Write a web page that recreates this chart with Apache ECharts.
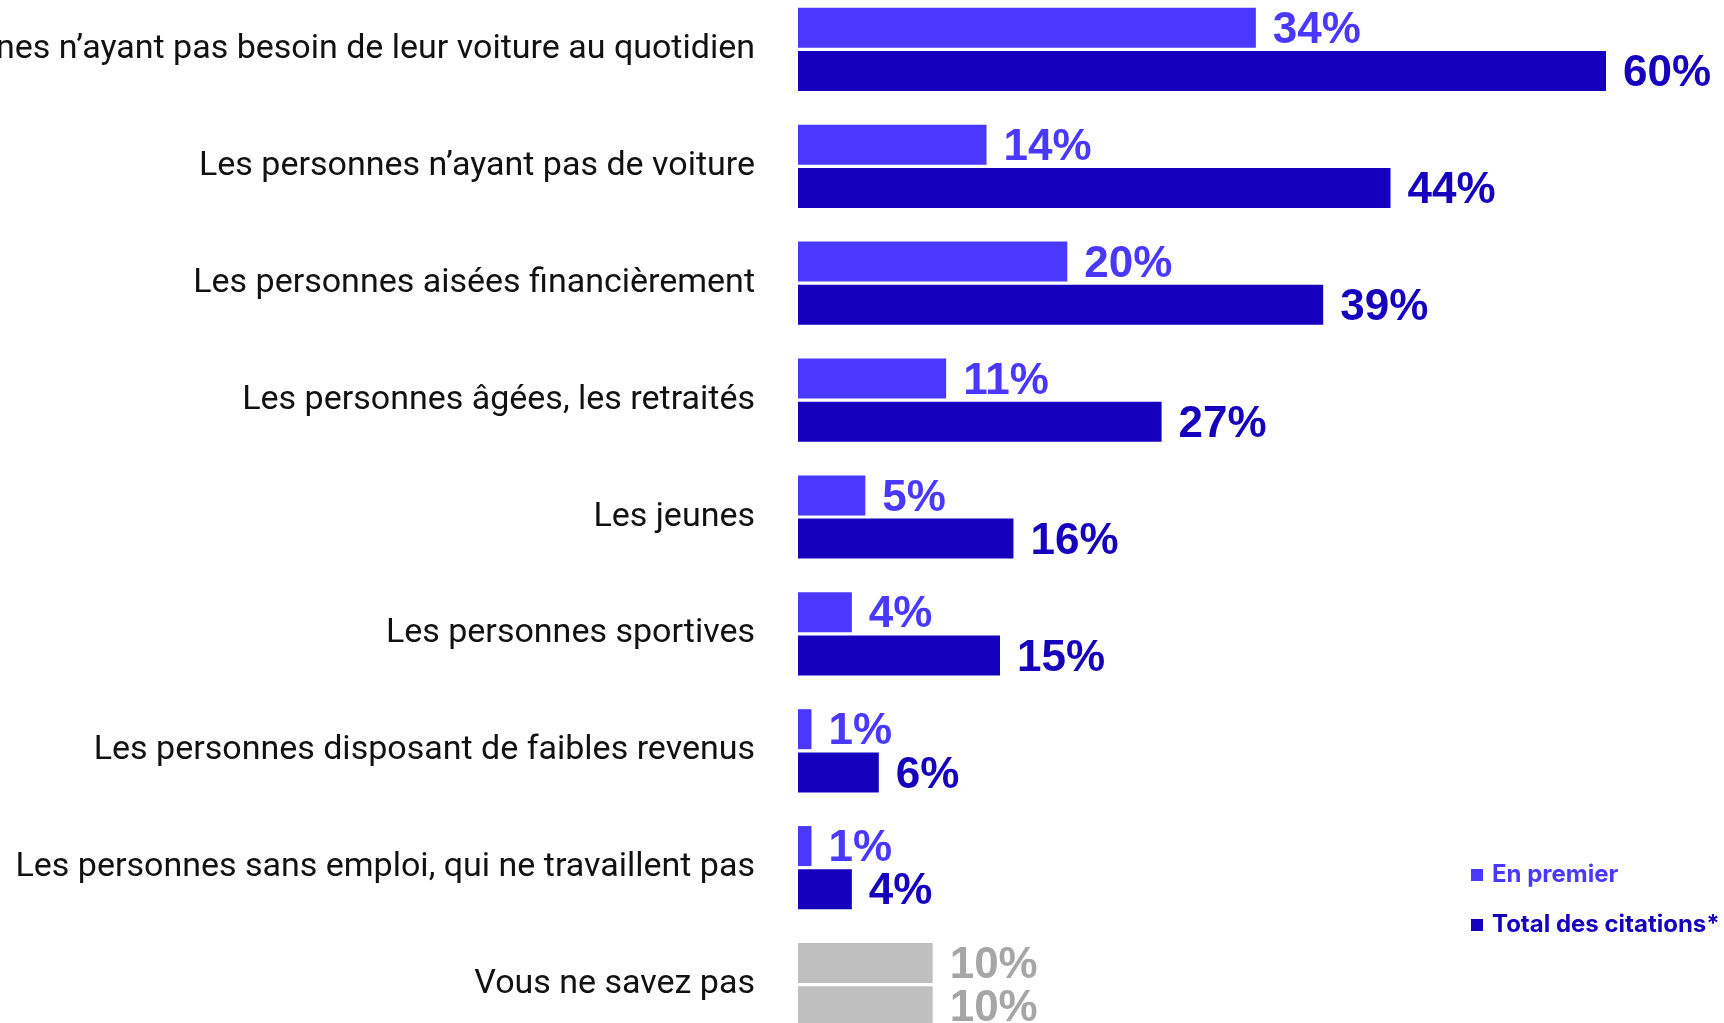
<!DOCTYPE html>
<html>
<head>
<meta charset="utf-8">
<script src="https://cdn.jsdelivr.net/npm/echarts@6/dist/echarts.min.js"></script>
<style>
  html, body { margin: 0; padding: 0; background: #fff; }
  #chart { width: 1724px; height: 1023px; }
</style>
</head>
<body>
<div id="chart"></div>
<script>
  const categories = [
    'Les personnes n\u2019ayant pas besoin de leur voiture au quotidien',
    'Les personnes n\u2019ayant pas de voiture',
    'Les personnes aisées financièrement',
    'Les personnes âgées, les retraités',
    'Les jeunes',
    'Les personnes sportives',
    'Les personnes disposant de faibles revenus',
    'Les personnes sans emploi, qui ne travaillent pas',
    'Vous ne savez pas'
  ];
  const enPremier = [34, 14, 20, 11, 5, 4, 1, 1, 10];
  const totalCitations = [60, 44, 39, 27, 16, 15, 6, 4, 10];
  const seriesNames = ['En premier', 'Total des citations*'];

  const LIGHT = '#4a38ff';
  const DARK = '#1500bd';
  const GREY_BAR = '#bfbfbf';
  const GREY_TXT = '#a6a6a6';

  // la dernière catégorie (ne sait pas) est en gris
  function toData(values, color) {
    return values.map((v, i) => {
      const isNsp = i === categories.length - 1;
      return {
        value: v,
        itemStyle: { color: isNsp ? GREY_BAR : color },
        label: { color: isNsp ? GREY_TXT : color }
      };
    });
  }

  const labelStyle = {
    show: true,
    position: 'right',
    distance: 17,
    offset: [0, 3],
    formatter: '{c}%',
    fontFamily: 'Liberation Sans',
    fontWeight: 'bold',
    fontSize: 44
  };

  const chart = echarts.init(document.getElementById('chart'));
  chart.setOption({
    animation: false,
    grid: {
      left: 798,
      width: 808,
      top: -9,
      height: 1052,
      containLabel: false,
      outerBoundsMode: 'none'
    },
    legend: {
      orient: 'vertical',
      left: 1466,
      top: 858,
      icon: 'rect',
      itemWidth: 12,
      itemHeight: 12,
      itemGap: 26,
      data: [
        { name: seriesNames[0], textStyle: { color: LIGHT } },
        { name: seriesNames[1], textStyle: { color: DARK } }
      ],
      textStyle: {
        fontFamily: 'Inter',
        fontWeight: 'bold',
        fontSize: 24,
        padding: [0, 0, 0, 4]
      }
    },
    xAxis: {
      type: 'value',
      min: 0,
      max: 'dataMax',
      show: false
    },
    yAxis: {
      type: 'category',
      inverse: true,
      data: categories,
      axisLine: { show: false },
      axisTick: { show: false },
      axisLabel: {
        margin: 43,
        color: '#111',
        fontFamily: 'Roboto',
        fontSize: 34
      }
    },
    series: [
      {
        name: seriesNames[0],
        type: 'bar',
        barWidth: 40,
        barGap: '8%',
        itemStyle: { color: LIGHT },
        label: labelStyle,
        data: toData(enPremier, LIGHT)
      },
      {
        name: seriesNames[1],
        type: 'bar',
        barWidth: 40,
        barGap: '8%',
        itemStyle: { color: DARK },
        label: labelStyle,
        data: toData(totalCitations, DARK)
      }
    ]
  });
</script>
</body>
</html>
